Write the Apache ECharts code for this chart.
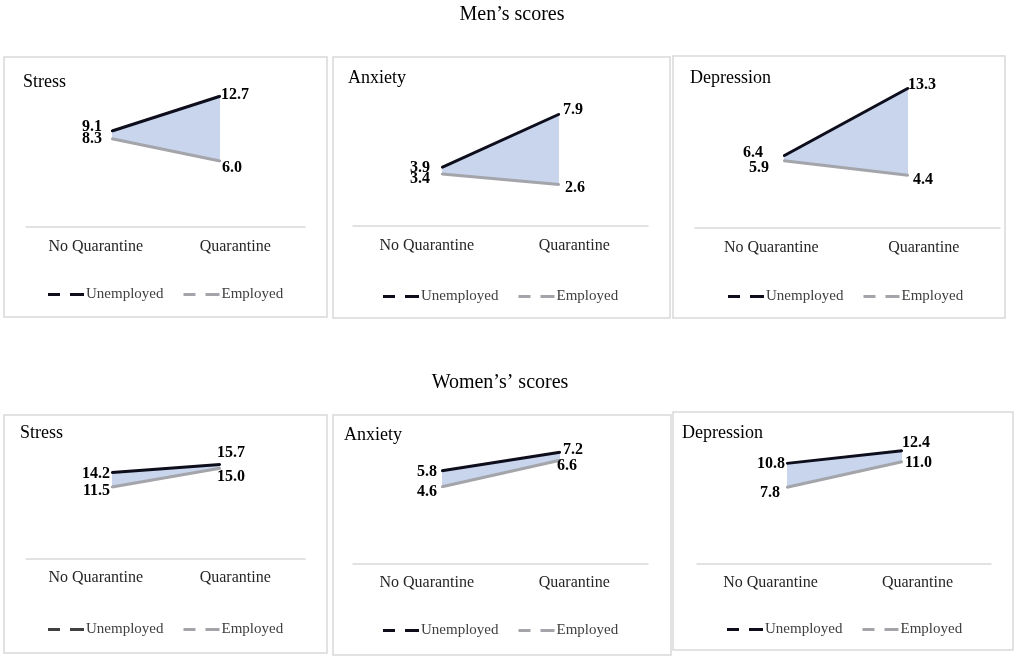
<!DOCTYPE html>
<html>
<head>
<meta charset="utf-8">
<script src="https://cdn.jsdelivr.net/npm/echarts@6/dist/echarts.min.js"></script>
<style>
html,body{margin:0;padding:0;background:#fff;}
#chart{width:1021px;height:659px;}
</style>
</head>
<body>
<div id="chart"></div>
<script>
// ---------- DATA ----------
const categories = ['No Quarantine', 'Quarantine'];
const seriesNames = ['Unemployed', 'Employed'];
const panelTitles = ['Stress', 'Anxiety', 'Depression'];
const groupTitles = ['Men\u2019s scores', 'Women\u2019s\u2019 scores'];

const menStressUnemployed = [9.1, 12.7];
const menStressEmployed = [8.3, 6.0];
const menAnxietyUnemployed = [3.9, 7.9];
const menAnxietyEmployed = [3.4, 2.6];
const menDepressionUnemployed = [6.4, 13.3];
const menDepressionEmployed = [5.9, 4.4];

const womenStressUnemployed = [14.2, 15.7];
const womenStressEmployed = [11.5, 15.0];
const womenAnxietyUnemployed = [5.8, 7.2];
const womenAnxietyEmployed = [4.6, 6.6];
const womenDepressionUnemployed = [10.8, 12.4];
const womenDepressionEmployed = [7.8, 11.0];

// ---------- LAYOUT (positions / styles only) ----------
const layout = [
  {box:[4,57,327,317], lx:[112,220], ly:[60,227], yr:[-0.835,16.45], ax:[26,305], ay:227, lm:12, title:[23,73], legend:[48,287],
   off:{u0:[-5,-4], u1:[-4,-1], e0:[-5,0], e1:[-3,7]}},
  {box:[333,57,670,318], lx:[442,559], ly:[60,226], yr:[-0.527,11.99], ax:[353,648], ay:226, lm:12, title:[348,69], legend:[383,289],
   off:{u0:[-7,1], u1:[-1,-4], e0:[-7,5], e1:[1,3]}},
  {box:[673,56,1005,318], lx:[784,908], ly:[60,228], yr:[-0.987,16.19], ax:[695,1000], ay:228, lm:12, title:[690,69], legend:[728,289],
   off:{u0:[-16,-3], u1:[-5,-3], e0:[-10,7], e1:[0,5]}},
  {box:[4,415,327,653], lx:[112,220], ly:[420,559], yr:[-1.915,23.97], ax:[26,305], ay:559, lm:11, title:[20,424], legend:[48,622],
   off:{u0:[3,1.5], u1:[-8,-11.5], e0:[3,4], e1:[-8,9]}, uLegendColor:'#404040'},
  {box:[333,415,671,655], lx:[442,560], ly:[420,564], yr:[-1.25,9.643], ax:[353,648], ay:564, lm:11, title:[344,426], legend:[383,623],
   off:{u0:[0,1], u1:[-2,-2], e0:[0,5], e1:[-8,6]}},
  {box:[673,412,1013,650], lx:[787,902], ly:[420,564], yr:[-1.89,16.27], ax:[697,991], ay:564, lm:11, title:[682,424], legend:[727,622],
   off:{u0:[3,0], u1:[-5,-8], e0:[-2,6], e1:[-2,1]}}
];

const panels = [
  {u: menStressUnemployed, e: menStressEmployed, title: panelTitles[0]},
  {u: menAnxietyUnemployed, e: menAnxietyEmployed, title: panelTitles[1]},
  {u: menDepressionUnemployed, e: menDepressionEmployed, title: panelTitles[2]},
  {u: womenStressUnemployed, e: womenStressEmployed, title: panelTitles[0]},
  {u: womenAnxietyUnemployed, e: womenAnxietyEmployed, title: panelTitles[1]},
  {u: womenDepressionUnemployed, e: womenDepressionEmployed, title: panelTitles[2]}
];

const SERIF = '"Liberation Serif", "Times New Roman", serif';
const U_COLOR = '#0d0d1c';
const E_COLOR = '#a3a5ab';
const FILL = '#c8d5ec';
const BORDER = '#d9d9d9';
const DASH_ICON = 'path://M0,0H12V3H0Z M22,0H36V3H22Z';

const W = 1021, H = 659;
const option = {
  animation: false,
  backgroundColor: '#ffffff',
  title: [],
  grid: [],
  xAxis: [],
  yAxis: [],
  legend: [],
  series: [],
  graphic: []
};

option.title.push({
  text: groupTitles[0], left: 512, top: 5, textAlign: 'center', padding: 0,
  textStyle: {fontFamily: SERIF, fontWeight: 'normal', fontSize: 20, color: '#000'}
});
option.title.push({
  text: groupTitles[1], left: 500, top: 373, textAlign: 'center', padding: 0,
  textStyle: {fontFamily: SERIF, fontWeight: 'normal', fontSize: 20, color: '#000'}
});

function labelItem(v, pos, off) {
  return {
    value: v,
    label: {show: true, position: pos, offset: off, distance: 4,
      formatter: p => Number(p.value).toFixed(1),
      fontFamily: SERIF, fontWeight: 'bold', fontSize: 16, color: '#000'}
  };
}

panels.forEach((p, i) => {
  const L = layout[i];
  // panel border
  option.graphic.push({
    type: 'rect', silent: true, z: 0,
    shape: {x: L.box[0], y: L.box[1], width: L.box[2] - L.box[0], height: L.box[3] - L.box[1]},
    style: {fill: 'none', stroke: BORDER, lineWidth: 1.5}
  });
  // panel title
  option.title.push({
    text: p.title, left: L.title[0], top: L.title[1], padding: 0,
    textStyle: {fontFamily: SERIF, fontWeight: 'normal', fontSize: 18, color: '#000'}
  });
  // grid for lines
  const gLine = option.grid.length;
  option.grid.push({left: L.lx[0], top: L.ly[0], width: L.lx[1] - L.lx[0], height: L.ly[1] - L.ly[0], containLabel: false});
  option.xAxis.push({gridIndex: gLine, type: 'category', data: categories, boundaryGap: false, show: false});
  option.yAxis.push({gridIndex: gLine, type: 'value', min: L.yr[0], max: L.yr[1], show: false, splitLine: {show: false}});
  // grid for category axis
  const gAxis = option.grid.length;
  option.grid.push({left: L.ax[0], top: L.ay - 20, width: L.ax[1] - L.ax[0], height: 20, containLabel: false});
  option.xAxis.push({gridIndex: gAxis, type: 'category', data: categories, boundaryGap: true,
    axisLine: {show: true, lineStyle: {color: BORDER, width: 1.5}},
    axisTick: {show: false},
    axisLabel: {show: true, margin: L.lm, fontFamily: SERIF, fontSize: 16, color: '#262626', interval: 0}
  });
  option.yAxis.push({gridIndex: gAxis, type: 'value', show: false, splitLine: {show: false}});

  const xi = option.xAxis.length - 2, yi = option.yAxis.length - 2;
  const stackName = 'band' + i;
  const diff = p.u.map((v, k) => +(v - p.e[k]).toFixed(2));
  option.series.push({
    name: 'base' + i, type: 'line', xAxisIndex: xi, yAxisIndex: yi, stack: stackName,
    data: p.e, symbol: 'none', silent: true, lineStyle: {opacity: 0}, z: 1
  });
  option.series.push({
    name: 'band' + i, type: 'line', xAxisIndex: xi, yAxisIndex: yi, stack: stackName,
    data: diff, symbol: 'none', silent: true, lineStyle: {opacity: 0},
    areaStyle: {color: FILL, opacity: 1}, z: 1
  });
  option.series.push({
    name: seriesNames[1], type: 'line', xAxisIndex: xi, yAxisIndex: yi,
    data: [labelItem(p.e[0], 'left', L.off.e0), labelItem(p.e[1], 'right', L.off.e1)],
    symbol: 'rect', symbolSize: 2, showSymbol: true, showAllSymbol: true,
    lineStyle: {color: E_COLOR, width: 3}, itemStyle: {color: E_COLOR, borderWidth: 0}, z: 3
  });
  option.series.push({
    name: seriesNames[0], type: 'line', xAxisIndex: xi, yAxisIndex: yi,
    data: [labelItem(p.u[0], 'left', L.off.u0), labelItem(p.u[1], 'right', L.off.u1)],
    symbol: 'rect', symbolSize: 2, showSymbol: true, showAllSymbol: true,
    lineStyle: {color: U_COLOR, width: 3}, itemStyle: {color: U_COLOR, borderWidth: 0}, z: 4
  });

  option.legend.push({
    left: L.legend[0], top: L.legend[1], padding: 0, itemGap: 20,
    itemWidth: 36, itemHeight: 3, selectedMode: false,
    itemStyle: {borderWidth: 0},
    textStyle: {fontFamily: SERIF, fontSize: 15, color: '#404040', padding: [0, 0, 0, -3]},
    data: [
      {name: seriesNames[0], icon: DASH_ICON, itemStyle: {color: L.uLegendColor || U_COLOR, borderWidth: 0}},
      {name: seriesNames[1], icon: DASH_ICON, itemStyle: {color: E_COLOR, borderWidth: 0}}
    ]
  });
});

const chart = echarts.init(document.getElementById('chart'), null, {renderer: 'canvas', width: W, height: H});
chart.setOption(option);
</script>
</body>
</html>
